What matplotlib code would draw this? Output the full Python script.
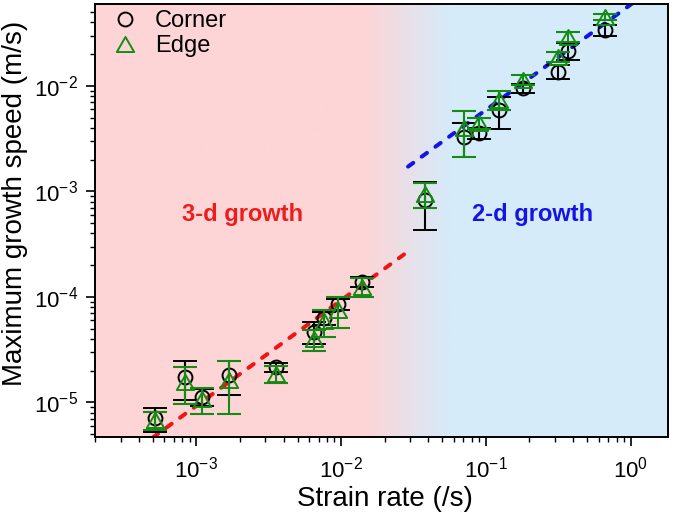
import numpy as np
import matplotlib
matplotlib.use('Agg')
import matplotlib.pyplot as plt
from matplotlib.lines import Line2D
from matplotlib.path import Path
from matplotlib.colors import to_rgb

plt.rcParams['font.family'] = ['Liberation Sans', 'DejaVu Sans']
plt.rcParams['mathtext.fontset'] = 'custom'
plt.rcParams['mathtext.rm'] = 'Liberation Sans'
plt.rcParams['mathtext.default'] = 'regular'

# strain rate (/s) for each measurement
strain = [5.2e-4, 8.3e-4, 1.09e-3, 1.68e-3, 3.57e-3, 6.5e-3, 7.6e-3, 9.5e-3, 1.4e-2,
          3.77e-2, 7.1e-2, 9.0e-2, 0.124, 0.179, 0.313, 0.371, 0.667]

# corner growth speed (m/s) and error
corner = [7.1e-6, 1.75e-5, 1.13e-5, 1.82e-5, 2.15e-5, 4.7e-5, 6.3e-5, 8.5e-5, 1.4e-4,
          8.3e-4, 3.3e-3, 3.57e-3, 5.93e-3, 9.5e-3, 1.37e-2, 2.15e-2, 3.4e-2]
corner_err = [1.8e-6, 0.7e-5, 0.2e-5, 0.65e-5, 0.2e-5, 1.1e-5, 0.9e-5, 1.0e-5, 0.15e-4,
              4.0e-4, 1.2e-3, 0.4e-3, 2.0e-3, 1.0e-3, 2.0e-3, 4.0e-3, 4.0e-3]

# edge growth speed (m/s) and error
edge = [6.85e-6, 1.57e-5, 1.08e-5, 1.63e-5, 1.88e-5, 4.0e-5, 5.9e-5, 7.6e-5, 1.25e-4,
        9.5e-4, 3.97e-3, 4.43e-3, 7.37e-3, 1.14e-2, 1.9e-2, 2.93e-2, 4.5e-2]
edge_err = [1.35e-6, 0.6e-5, 0.3e-5, 0.85e-5, 0.35e-5, 0.9e-5, 1.7e-5, 2.5e-5, 0.25e-4,
            2.5e-4, 1.85e-3, 0.55e-3, 1.5e-3, 1.2e-3, 2.0e-3, 3.0e-3, 3.0e-3]

# guide lines (end points)
fit3d_x = [5.0e-4, 2.9e-2]
fit3d_y = [4.65e-6, 2.7e-4]
fit2d_x = [2.9e-2, 1.1]
fit2d_y = [1.72e-3, 6.5e-2]

fig = plt.figure(figsize=(6.77, 5.13), dpi=100)
rect = [94.5/677, 1-437/513, 573.5/677, 433/513]

# background gradient pink -> blue
bg = fig.add_axes(rect, zorder=0)
pos = np.linspace(0, 1, 500)
t = np.clip((pos - 0.468)/(0.62 - 0.468), 0, 1)
pink = np.array(to_rgb('#fdd5d6'))
blue = np.array(to_rgb('#d5ebfa'))
img = pink[None, :]*(1-t)[:, None] + blue[None, :]*t[:, None]
bg.imshow(img[None, :, :], aspect='auto', extent=[0, 1, 0, 1])
bg.axis('off')

ax = fig.add_axes(rect, zorder=1)
ax.set_facecolor('none')

ax.plot(fit3d_x, fit3d_y, color='#f01414', lw=2.9, dashes=(1.6, 2.6),
        dash_capstyle='round', zorder=2)
ax.plot(fit2d_x, fit2d_y, color='#1414e6', lw=2.9, dashes=(1.6, 2.6),
        dash_capstyle='round', zorder=2)

# open triangle, centred on its bounding box
tri = Path([(-0.866, -0.75), (0.866, -0.75), (0, 0.75), (-0.866, -0.75)],
           [Path.MOVETO, Path.LINETO, Path.LINETO, Path.CLOSEPOLY])
green = '#148c14'

ax.errorbar(strain, corner, yerr=corner_err, fmt='o', ms=10, mfc='none', mec='k',
            mew=1.4, ecolor='k', elinewidth=1.5, capsize=8.3, capthick=1.5, zorder=3)
ax.errorbar(strain, edge, yerr=edge_err, fmt='none', ecolor=green, elinewidth=1.5,
            capsize=8.3, capthick=1.5, zorder=4)
ax.plot(strain, edge, ls='none', marker=tri, ms=12.5, mfc='none', mec=green,
        mew=1.4, zorder=5)

ax.set_xscale('log')
ax.set_yscale('log')
ax.set_xlim(1.98e-4, 1.81)
ax.set_ylim(4.71e-6, 0.0598)

ax.text(0.258, 0.515, '3-d growth', transform=ax.transAxes, ha='center', va='center',
        fontsize=17, fontweight='bold', color='#ee1c1c')
ax.text(0.763, 0.515, '2-d growth', transform=ax.transAxes, ha='center', va='center',
        fontsize=17, fontweight='bold', color='#1414e6')

ax.set_xlabel('Strain rate (/s)', fontsize=20)
ax.set_ylabel('Maximum growth speed (m/s)', fontsize=20)
ax.xaxis.set_label_coords(0.507, -0.114)
ax.yaxis.set_label_coords(-0.116, 0.54)

ax.tick_params(which='major', direction='out', length=6.8, width=1.2, labelsize=16,
               top=False, right=False)
ax.tick_params(which='minor', direction='out', length=3.6, width=1.0,
               top=False, right=False)
ax.tick_params(axis='x', which='major', pad=7)
ax.tick_params(axis='y', which='major', pad=5)
for s in ax.spines.values():
    s.set_linewidth(1.4)

handles = [Line2D([], [], ls='none', marker='o', ms=10, mfc='none', mec='k', mew=1.4),
           Line2D([], [], ls='none', marker=tri, ms=12.5, mfc='none', mec=green, mew=1.4)]
ax.legend(handles, ['Corner', 'Edge'], loc='upper left', bbox_to_anchor=(0.0326, 0.985),
          frameon=False, fontsize=17, borderaxespad=0, borderpad=0, handlelength=1.0,
          handletextpad=0.77, labelspacing=0.1)

fig.savefig('out.png', dpi=100)
